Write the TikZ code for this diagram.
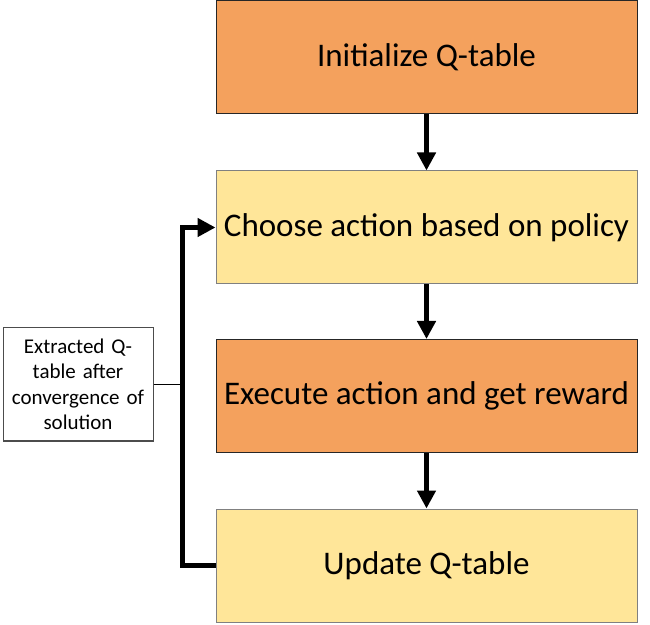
\documentclass[tikz,border=0pt]{standalone}
\usepackage{fontspec}
\setmainfont{Carlito}
\usetikzlibrary{arrows.meta}
\definecolor{steporange}{HTML}{F4A15D}
\definecolor{stepyellow}{HTML}{FFE699}

\begin{document}
\begin{tikzpicture}[x=1pt, y=1pt, >={Triangle[length=18pt,width=18pt]}]
  \tikzset{
    stepbox/.style={draw, line width=1pt, minimum width=421pt, minimum height=113pt,
      inner sep=0pt, font=\fontsize{33}{38}\selectfont},
    hotbox/.style={stepbox, fill=steporange, draw=black!85},
    calmbox/.style={stepbox, fill=stepyellow, draw=gray},
    flow/.style={->, line width=5pt},
    notebox/.style={draw=black!70, line width=1pt, minimum width=150pt, minimum height=113pt,
      align=center, text width=146pt, inner sep=0pt, font=\fontsize{21}{25.5}\selectfont}
  }
  \useasboundingbox (0,0) rectangle (650,624);

  % Steps
  \node[hotbox]  (init)   at (426.5, 566.5) {Initialize Q-table};
  \node[calmbox] (choose) at (426.5, 396.5) {Choose action based on policy};
  \node[hotbox]  (exec)   at (426.5, 228)   {Execute action and get reward};
  \node[calmbox] (update) at (426.5, 58.5)  {Update Q-table};

  % Arrows between steps
  \draw[flow] (init) -- (choose);
  \draw[flow] (choose) -- (exec);
  \draw[flow] (exec) -- (update);

  % Loop back
  \coordinate (loopbot) at (182, 58.5);
  \coordinate (looptop) at (182, 396.5);
  \coordinate (loopmid) at (182, 239.5);
  \draw[flow, line join=miter] (update.west) -- (loopbot) -- (looptop) -- (choose.west);

  % Side note
  \node[notebox] (note) at (78, 239.5) {Extracted Q-\\table after\\convergence of\\solution};
  \draw[line width=1pt] (note.east) -- (loopmid);

\end{tikzpicture}
\end{document}
